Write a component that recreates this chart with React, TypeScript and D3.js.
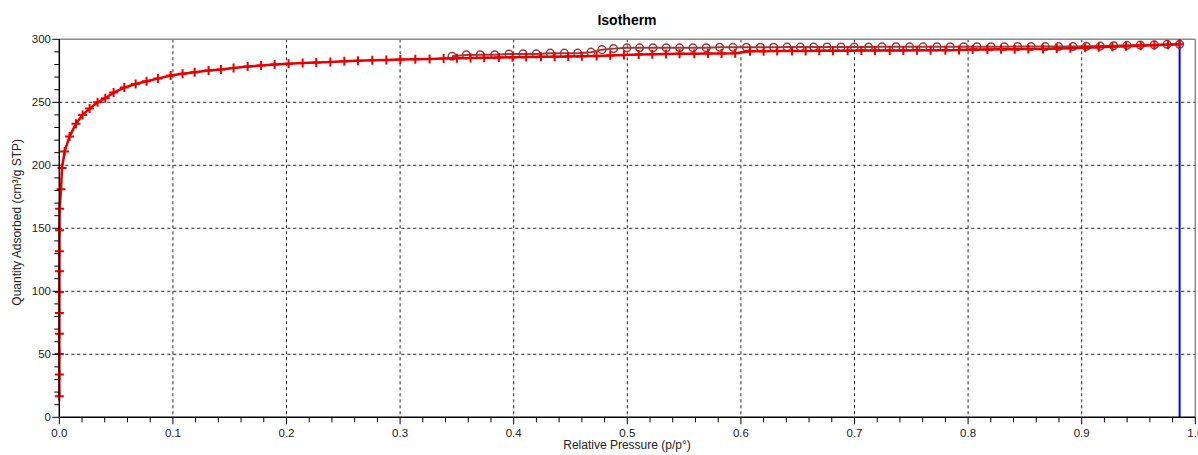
import React from "react";
import * as d3 from "d3";

const adsP = [0.00001,0.00002,0.00003,0.00004,0.00005,0.00007,0.00009,0.00012,0.00016,0.0003,0.0015,0.0024,0.0047,0.009,0.0147,0.0205,0.0267,0.0337,0.0405,0.0478,0.0572,0.0672,0.0768,0.0868,0.098,0.1085,0.1191,0.1314,0.1423,0.1534,0.1658,0.1776,0.1895,0.2018,0.2142,0.2262,0.2386,0.2509,0.2629,0.2755,0.2879,0.3002,0.3134,0.326,0.3383,
0.350,0.362,0.374,0.387,0.399,0.411,0.424,0.436,0.448,0.460,0.473,0.485,0.497,0.510,0.522,0.534,0.546,0.559,0.571,0.583,0.595,0.608,0.620,0.632,0.645,0.657,0.669,0.681,0.694,0.706,0.718,0.731,0.743,0.755,0.767,0.780,0.792,0.804,0.817,0.829,0.841,0.853,0.866,0.878,0.890,0.903,0.915,0.927,0.939,0.952,0.964,0.976,0.986];
const adsV = [16.7,33.9,50.3,66.4,82.8,99.5,115.9,131.7,148.4,165.6,181,197.9,211,222.8,233,240,245,250,253.2,257.7,261.7,264.5,266.7,268.8,271.3,272.6,273.8,275.2,276.1,277.3,278.4,279.2,280.0,280.6,281.1,281.6,281.9,282.6,282.9,283.3,283.6,284.0,284.2,284.4,284.7,
285.0,285.2,285.4,285.6,285.8,285.9,286.1,286.2,286.4,286.5,286.7,287.1,287.6,288.0,288.2,288.3,288.5,288.6,288.7,288.8,288.9,290.5,290.6,290.7,290.8,290.8,290.9,291.0,291.0,291.1,291.1,291.2,291.2,291.3,291.3,291.4,291.5,291.9,292.0,292.1,292.2,292.3,292.4,292.6,292.8,293.2,293.6,294.0,294.4,294.8,295.2,295.6,296.0];

const desP = [0.3457,0.3583,0.3706,0.3832,0.3959,0.4082,0.4199,0.4322,0.4445,0.4563,0.468,0.4777,0.4879,0.4997,0.5108,0.5226,0.5343,0.546,0.5578,0.5695,0.5813,0.593,0.6048,0.6171,0.6288,0.6406,0.6523,0.664,0.6758,0.6881,0.6998,0.7124,0.7242,0.7365,0.7485,0.7603,0.7726,0.7843,0.7961,0.8078,0.8202,0.8319,0.8436,0.8554,0.868,0.8797,0.8923,0.9041,0.9164,0.9281,0.9399,0.9516,0.9639,0.9751,0.9862];
const desV = [286.5,287.6,287.7,287.7,288.3,288.4,288.4,289.0,289.0,289.0,289.8,291.8,292.6,293.2,293.2,293.2,293.2,293.2,293.2,293.3,293.6,293.6,293.7,293.7,293.7,293.8,293.8,293.8,293.9,293.9,293.9,293.9,294.0,294.0,294.0,294.0,294.0,294.1,294.1,294.1,294.1,294.1,294.2,294.2,294.2,294.2,294.3,294.4,294.6,294.9,295.2,295.5,295.7,296.1,296.0];

const saturationP = 0.9862;
const xMajorTicks = [0, 0.1, 0.2, 0.3, 0.4, 0.5, 0.6, 0.7, 0.8, 0.9, 1.0];
const yMajorTicks = [0, 50, 100, 150, 200, 250, 300];
const xTickLabels = ["0.0", "0.1", "0.2", "0.3", "0.4", "0.5", "0.6", "0.7", "0.8", "0.9", "1.0"];

const W = 1198, H = 455;
const FONT = "Arial, 'Liberation Sans', sans-serif";

export default function App() {
  const x = d3.scaleLinear().domain([0, 1]).range([59.3, 1195.3]);
  const y = d3.scaleLinear().domain([0, 300]).range([417.3, 39.3]);

  const ads = adsP.map((p, i) => [p, adsV[i]] as [number, number]);
  const des = desP.map((p, i) => [p, desV[i]] as [number, number]);
  const line = d3.line<[number, number]>().x(d => x(d[0])).y(d => y(d[1]));

  const xMinor = d3.range(0, 50).map(i => i * 0.02).filter(v => Math.abs(v * 10 - Math.round(v * 10)) > 1e-6 && v < 1);
  const yMinor = d3.range(0, 31).map(i => i * 10).filter(v => v % 50 !== 0);

  const x0 = x(0), x1 = x(1), y0 = y(0), y1 = y(300);
  const adsColor = "#e60000";
  const desColor = "#9a3c3c";

  return (
    <svg width={W} height={H} style={{ position: "absolute", left: 0, top: 0, background: "#fff" }} fontFamily={FONT}>
      {/* grid */}
      {xMajorTicks.filter(t => t > 0 && t < 1).map(t => (
        <line key={"gx" + t} x1={x(t)} x2={x(t)} y1={y1} y2={y0} stroke="#222" strokeWidth={1} strokeDasharray="3,3" />
      ))}
      {yMajorTicks.filter(t => t > 0 && t < 300).map(t => (
        <line key={"gy" + t} x1={x0} x2={x1} y1={y(t)} y2={y(t)} stroke="#222" strokeWidth={1} strokeDasharray="3,3" />
      ))}
      {/* border */}
      <line x1={x0} x2={x1} y1={y1} y2={y1} stroke="#8a8a8a" strokeWidth={1.5} />
      <line x1={x1} x2={x1} y1={y1} y2={y0} stroke="#8a8a8a" strokeWidth={1.5} />

      {/* saturation line */}
      <line x1={x(saturationP)} x2={x(saturationP)} y1={y(300)} y2={y(0)} stroke="#0000ff" strokeWidth={2} />

      {/* desorption */}
      <path d={line(des) || ""} fill="none" stroke={desColor} strokeWidth={2} />
      {des.map((d, i) => (
        <circle key={"dc" + i} cx={x(d[0])} cy={y(d[1])} r={3.8} fill="none" stroke={desColor} strokeWidth={1.5} />
      ))}

      {/* adsorption */}
      <path d={line(ads) || ""} fill="none" stroke={adsColor} strokeWidth={2.5} />
      {ads.map((d, i) => {
        const cx = x(d[0]), cy = y(d[1]);
        return (
          <path key={"ap" + i} d={`M${cx - 4.5},${cy}H${cx + 4.5}M${cx},${cy - 4.5}V${cy + 4.5}`} stroke={adsColor} strokeWidth={2} fill="none" />
        );
      })}

      {/* axes */}
      <line x1={x0} x2={x0} y1={y1} y2={y0} stroke="#000" strokeWidth={1.5} />
      <line x1={x0} x2={x1} y1={y0} y2={y0} stroke="#000" strokeWidth={1.5} />
      {xMajorTicks.map(t => (
        <line key={"xt" + t} x1={x(t)} x2={x(t)} y1={y0} y2={y0 + 7} stroke="#000" strokeWidth={1} />
      ))}
      {xMinor.map(t => (
        <line key={"xm" + t} x1={x(t)} x2={x(t)} y1={y0} y2={y0 + 5} stroke="#000" strokeWidth={1} />
      ))}
      {yMajorTicks.map(t => (
        <line key={"yt" + t} x1={x0 - 7} x2={x0} y1={y(t)} y2={y(t)} stroke="#000" strokeWidth={1} />
      ))}
      {yMinor.map(t => (
        <line key={"ym" + t} x1={x0 - 5} x2={x0} y1={y(t)} y2={y(t)} stroke="#000" strokeWidth={1} />
      ))}

      {xMajorTicks.map((t, i) => (
        <text key={"xl" + t} x={x(t)} y={437} textAnchor="middle" fontSize={11.5} fill="#222">{xTickLabels[i]}</text>
      ))}
      {yMajorTicks.map(t => (
        <text key={"yl" + t} x={51} y={y(t) + 4} textAnchor="end" fontSize={11.5} fill="#222">{t}</text>
      ))}

      <text x={627} y={25} textAnchor="middle" fontSize={14} fontWeight="bold" fill="#000">Isotherm</text>
      <text x={627} y={449} textAnchor="middle" fontSize={12} fill="#222">Relative Pressure (p/p°)</text>
      <text transform={`translate(21,${(y0 + y1) / 2 - 6}) rotate(-90)`} textAnchor="middle" fontSize={12} fill="#222">Quantity Adsorbed (cm³/g STP)</text>
    </svg>
  );
}
